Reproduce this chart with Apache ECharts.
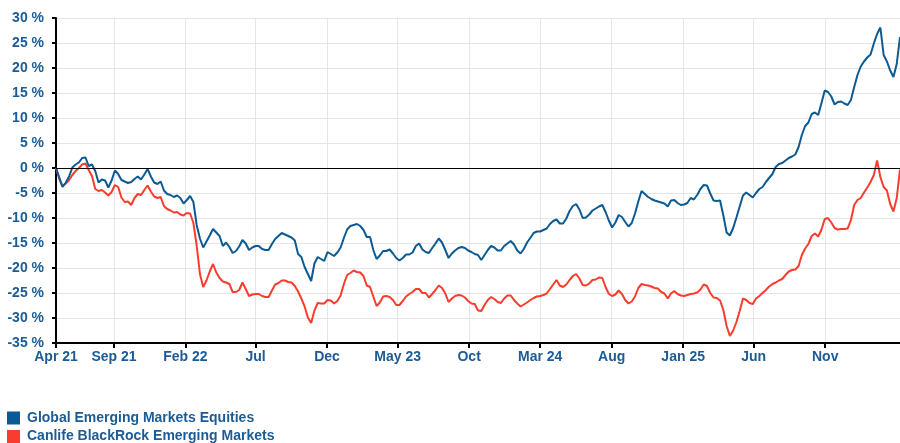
<!DOCTYPE html>
<html><head><meta charset="utf-8">
<script src="https://cdn.jsdelivr.net/npm/echarts@6/dist/echarts.min.js"></script>
<style>html,body{margin:0;padding:0;background:#fff}#chart{width:900px;height:443px}</style>
</head><body><div id="chart"></div>
<script>
// Weekly observations starting 30 Apr 2021
const startDate = [2021, 4, 30];
const stepDays = 7;

const seriesNames = ['Global Emerging Markets Equities', 'Canlife BlackRock Emerging Markets'];

const globalEM = [
  0, -1.9, -3.8, -2.9, -1.7, 0.1, 0.7, 1.1, 2.0, 2.1,
  0.4, 0.7, -0.6, -2.9, -2.3, -2.5, -3.9, -2.5, -0.5, -1.2,
  -2.4, -2.7, -3.0, -2.8, -2.2, -1.7, -2.3, -1.3, -0.2, -1.7,
  -2.9, -3.2, -2.7, -4.5, -5.2, -5.4, -5.8, -5.5, -6.0, -7.1,
  -6.4, -5.6, -6.8, -11.4, -14.1, -15.9, -14.7, -13.5, -12.2, -12.9,
  -13.6, -15.6, -14.9, -15.8, -17.0, -16.6, -15.7, -14.4, -15.1, -16.4,
  -15.9, -15.6, -15.6, -16.2, -16.4, -16.4, -15.2, -14.2, -13.6, -13.0,
  -13.3, -13.6, -13.9, -14.5, -17.2, -17.8, -19.8, -21.2, -22.6, -19.1,
  -17.8, -18.2, -18.6, -16.8, -17.2, -17.6, -16.9, -15.9, -14.0, -12.3,
  -11.6, -11.4, -11.2, -11.6, -12.4, -13.8, -13.8, -16.4, -18.2, -17.5,
  -16.6, -16.6, -16.3, -17.1, -18.0, -18.5, -18.0, -17.3, -17.3, -16.9,
  -15.6, -15.1, -16.3, -16.8, -17.0, -16.0, -15.1, -14.1, -14.9, -16.4,
  -18.0, -17.1, -16.5, -16.0, -15.8, -16.0, -16.5, -16.8, -17.2, -17.4,
  -18.4, -17.4, -16.4, -15.6, -15.9, -16.5, -16.5, -15.6, -15.1, -14.6,
  -15.3, -16.5, -17.1, -16.2, -14.9, -14.0, -13.0, -12.7, -12.7, -12.4,
  -12.1, -11.2, -10.6, -10.3, -11.1, -11.1, -10.1, -8.6, -7.6, -7.2,
  -8.3, -10.0, -9.9, -9.3, -8.5, -8.1, -7.7, -7.4, -8.8, -10.5,
  -11.9, -10.9, -9.4, -9.8, -10.8, -11.7, -11.0, -9.1, -6.7, -4.6,
  -5.2, -5.8, -6.2, -6.5, -6.7, -6.9, -7.1, -7.7, -6.5, -6.4,
  -7.0, -7.4, -7.3, -7.0, -6.0, -6.3, -5.4, -4.2, -3.4, -3.5,
  -5.1, -6.5, -6.6, -6.5, -9.5, -12.9, -13.5, -12.0, -9.9, -7.7,
  -5.5, -4.9, -5.4, -5.9, -5.0, -4.2, -3.8, -2.8, -2.0, -1.2,
  0.2, 0.8, 1.0, 1.5, 2.0, 2.3, 2.7, 4.2, 6.6, 8.4,
  9.1, 10.8, 11.1, 10.6, 13.0, 15.5, 15.2, 14.3, 12.7, 13.2,
  13.3, 12.9, 12.6, 13.6, 16.2, 18.6, 20.3, 21.3, 22.1, 22.7,
  24.9, 26.8, 28.1, 22.6, 21.3, 19.5, 18.2, 20.8, 26.2
];

const canlifeBR = [
  0, -2.2, -3.6, -3.1, -2.4, -1.4, -0.6, 0.0, 0.7, 0.9,
  -0.4, -1.6, -4.2, -4.6, -4.4, -4.9, -5.5, -4.8, -3.4, -3.8,
  -5.9, -6.8, -6.7, -7.4, -6.0, -5.2, -5.4, -4.4, -3.5, -4.7,
  -5.7, -6.0, -5.8, -7.6, -8.2, -8.5, -8.9, -8.8, -9.3, -9.5,
  -9.0, -9.1, -11.0, -15.5, -21.2, -23.8, -22.5, -20.7, -19.2, -20.9,
  -22.0, -22.7, -22.9, -23.2, -24.8, -24.8, -24.4, -22.9, -24.2, -25.6,
  -25.3, -25.2, -25.2, -25.6, -25.8, -25.8, -24.5, -23.3, -23.0, -22.5,
  -22.5, -22.8, -22.9, -23.6, -24.7, -26.1, -27.7, -29.9, -31.0, -28.5,
  -27.0, -27.1, -27.1, -26.4, -26.5, -27.1, -26.6, -25.5, -23.2, -21.4,
  -21.0, -20.5, -20.8, -20.9, -21.6, -23.5, -23.8, -25.7, -27.6, -26.9,
  -25.7, -25.6, -25.8, -26.4, -27.4, -27.4, -26.6, -25.7, -25.2, -24.8,
  -24.2, -24.2, -25.0, -25.0, -25.9, -25.2, -24.4, -23.5, -24.0, -25.1,
  -26.8, -26.1, -25.6, -25.4, -25.5, -25.9, -26.6, -27.1, -27.2, -28.5,
  -28.6, -27.4, -26.4, -25.8, -26.2, -26.8, -27.0, -26.1, -25.5, -25.5,
  -26.4, -27.1, -27.7, -27.3, -26.9, -26.4, -26.0, -25.7, -25.6, -25.4,
  -25.1, -24.2, -23.3, -22.4, -23.5, -23.8, -23.3, -22.4, -21.6, -21.2,
  -22.1, -23.4, -23.5, -23.1, -22.4, -22.3, -21.9, -22.0, -23.8, -25.2,
  -25.6, -25.3, -24.5, -25.2, -26.4, -27.1, -26.7, -25.7, -24.0, -23.2,
  -23.4, -23.5, -23.7, -24.0, -24.1, -24.8, -25.1, -26.1, -25.1, -24.6,
  -25.2, -25.5, -25.6, -25.4, -25.2, -25.1, -24.9, -24.3, -23.3, -23.6,
  -25.0, -25.9, -26.0, -26.5, -28.4, -31.6, -33.6, -32.5, -30.8, -28.6,
  -26.1, -26.4, -27.0, -27.2, -26.1, -25.6, -25.0, -24.4, -23.7, -23.2,
  -22.9, -22.5, -22.2, -21.4, -20.7, -20.4, -20.3, -19.6, -17.4, -16.1,
  -15.2, -13.6, -13.1, -13.7, -12.3, -10.2, -10.0, -10.9, -12.0, -12.3,
  -12.2, -12.2, -12.1, -10.4, -7.4, -6.4, -6.0, -4.9, -3.9, -2.8,
  -1.4, 1.5, -1.8, -3.8, -4.5, -7.2, -8.7, -6.0, -0.3
];

const tickDates = [[2021,4,30],[2021,9,1],[2022,2,1],[2022,7,1],[2022,12,1],[2023,5,1],[2023,10,1],[2024,3,1],[2024,8,1],[2025,1,1],[2025,6,1],[2025,11,1]];
const tickLabels = ['Apr 21','Sep 21','Feb 22','Jul','Dec','May 23','Oct','Mar 24','Aug','Jan 25','Jun','Nov'];

const yMin = -35, yMax = 30, yStep = 5;

const BLUE = '#0c5a94';
const RED = '#f83d2e';
const TEXT = '#1b5b96';
const FONT = '"Liberation Sans", Arial, sans-serif';

// x coordinate = days elapsed since the first observation
const DAY = 86400000;
const t0 = Date.UTC(startDate[0], startDate[1] - 1, startDate[2]);
const dayOffsets = globalEM.map((_, j) => stepDays * j);
const tickDays = tickDates.map(d => Math.round((Date.UTC(d[0], d[1] - 1, d[2]) - t0) / DAY));

function labelFor(v) {
  for (let i = 0; i < tickDays.length; i++) {
    if (Math.abs(tickDays[i] - v) < 0.5) return tickLabels[i];
  }
  return '';
}

const chart = echarts.init(document.getElementById('chart'), null, {renderer: 'canvas'});
chart.setOption({
  animation: false,
  backgroundColor: '#fff',
  textStyle: {fontFamily: FONT},
  grid: {left: 56, right: 0, top: 18, bottom: 100, containLabel: false},
  legend: {
    orient: 'vertical', left: 7, top: 411, height: 45, padding: 0,
    icon: 'rect', itemWidth: 13, itemHeight: 13, itemGap: 4.5,
    data: seriesNames,
    textStyle: {color: TEXT, fontWeight: 'bold', fontSize: 14, fontFamily: FONT, padding: [0, 0, 0, 2]}
  },
  xAxis: {
    type: 'value',
    min: 0, max: dayOffsets[dayOffsets.length - 1],
    axisLine: {onZero: false, lineStyle: {color: '#000', width: 2}},
    axisTick: {show: true, customValues: tickDays, length: 5, lineStyle: {color: '#000', width: 2}},
    axisLabel: {customValues: tickDays, formatter: labelFor, color: TEXT, fontWeight: 'bold', fontSize: 14, fontFamily: FONT, margin: 7, hideOverlap: false},
    splitLine: {show: true, lineStyle: {color: '#e5e5e5', width: 1}}
  },
  yAxis: {
    type: 'value', min: yMin, max: yMax, interval: yStep,
    axisLine: {show: true, lineStyle: {color: '#000', width: 2}},
    axisTick: {show: true, length: 4, lineStyle: {color: '#000', width: 2}},
    axisLabel: {formatter: '{value} %', color: TEXT, fontWeight: 'bold', fontSize: 14, fontFamily: FONT, margin: 12},
    splitLine: {show: true, lineStyle: {color: '#e5e5e5', width: 1}}
  },
  series: [
    {
      name: seriesNames[0], type: 'line', showSymbol: false, symbol: 'none',
      color: BLUE, lineStyle: {color: BLUE, width: 2},
      data: dayOffsets.map((d, i) => [d, globalEM[i]]),
      markLine: {
        silent: true, symbol: 'none', label: {show: false},
        lineStyle: {color: '#000', width: 1, type: 'solid'},
        data: [{yAxis: 0}]
      },
      z: 3
    },
    {
      name: seriesNames[1], type: 'line', showSymbol: false, symbol: 'none',
      color: RED, lineStyle: {color: RED, width: 2},
      data: dayOffsets.map((d, i) => [d, canlifeBR[i]]),
      z: 2
    }
  ]
});
</script></body></html>
